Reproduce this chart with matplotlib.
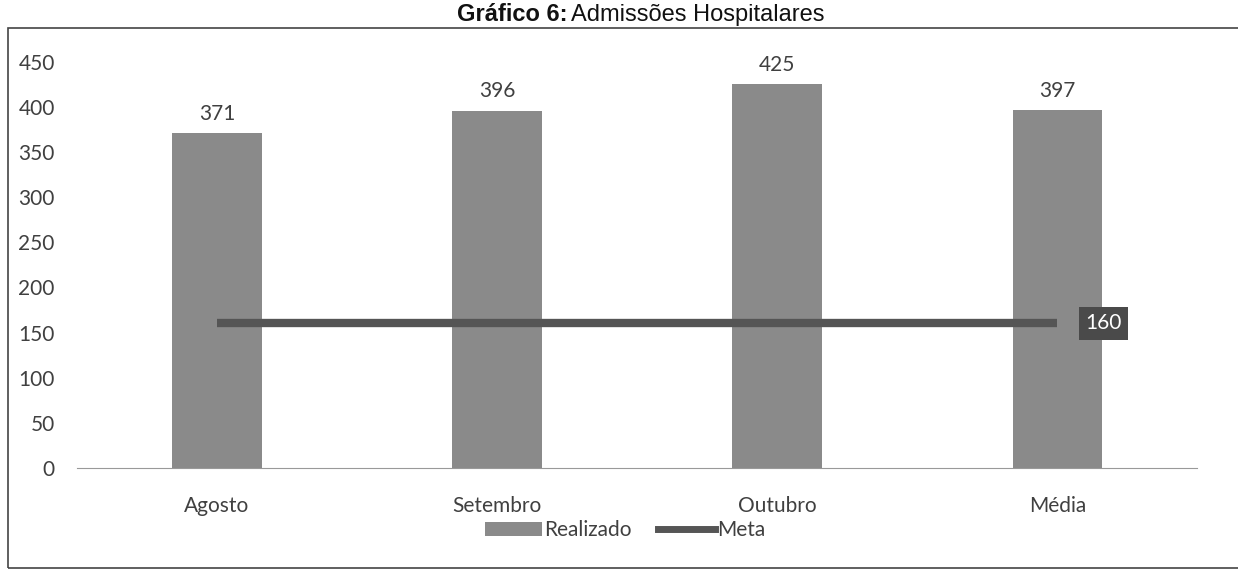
import numpy as np
import matplotlib.pyplot as plt
from matplotlib.patches import Rectangle, Patch
from matplotlib.lines import Line2D

categorias = ["Agosto", "Setembro", "Outubro", "Média"]
realizado = [371, 396, 425, 397]
meta = [160, 160, 160, 160]
yticks = [0, 50, 100, 150, 200, 250, 300, 350, 400, 450]

plt.rcParams['font.family'] = ['Lato', 'DejaVu Sans']

cor_barra = "#8a8a8a"
cor_meta = "#555555"
cor_texto = "#404040"
fs = 15

fig = plt.figure(figsize=(12.38, 5.72), dpi=100)
fig.patch.set_facecolor("white")

# moldura do grafico
fig.patches.append(Rectangle((0.0065, 0.007), 1.1, 0.944, transform=fig.transFigure,
                             fill=False, edgecolor="#444444", linewidth=1.2))

# titulo
fig.text(0.458, 0.974, "Gráfico 6:", ha="right", va="center", fontsize=17,
         fontweight="bold", color="#111111", family="Liberation Sans")
fig.text(0.461, 0.974, "Admissões Hospitalares", ha="left", va="center", fontsize=17,
         color="#111111", family="Liberation Sans")

ax = fig.add_axes([0.0622, 0.182, 0.905, 0.71])
x = np.arange(len(categorias))
ax.bar(x, realizado, width=0.32, color=cor_barra, zorder=2)
ax.plot(x, meta, color=cor_meta, linewidth=6, solid_capstyle="butt", zorder=3)

for xi, v in zip(x, realizado):
    ax.text(xi, v + 10, str(v), ha="center", va="bottom", fontsize=fs, color=cor_texto)

ax.text(x[-1] + 0.1, meta[-1], str(meta[-1]), ha="left", va="center", fontsize=fs,
        color="white", zorder=4,
        bbox=dict(boxstyle="square,pad=0.3", facecolor="#4a4a4a", edgecolor="none"))

ax.set_xlim(-0.5, 3.5)
ax.set_ylim(0, 450)
ax.set_yticks(yticks)
ax.set_xticks(x)
ax.set_xticklabels(categorias)
for s in ["top", "right", "left"]:
    ax.spines[s].set_visible(False)
ax.spines["bottom"].set_color("#999999")
ax.spines["bottom"].set_linestyle((0, (1, 1)))
ax.tick_params(axis="both", length=0, labelsize=fs, colors=cor_texto)
ax.tick_params(axis="x", pad=20)
ax.tick_params(axis="y", pad=16)

handles = [Patch(facecolor=cor_barra, edgecolor="none"),
           Line2D([0], [0], color=cor_meta, linewidth=5)]
fig.legend(handles, ["Realizado", "Meta"], loc="center", bbox_to_anchor=(0.505, 0.073),
           ncol=2, frameon=False, fontsize=fs, handlelength=2.7, handleheight=0.6,
           columnspacing=1.3, handletextpad=0.1, labelcolor=cor_texto)

plt.savefig("out.png", dpi=100)
